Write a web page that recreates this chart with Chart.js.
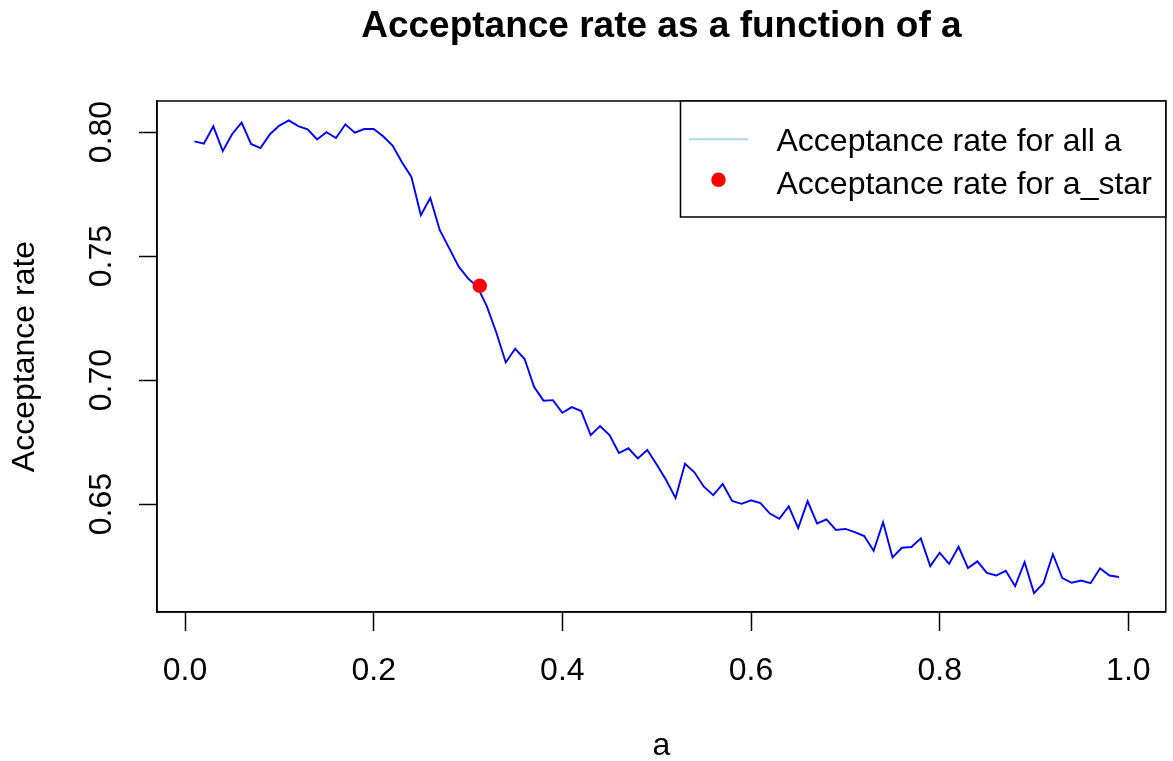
<!DOCTYPE html>
<html>
<head>
<meta charset="utf-8">
<title>Acceptance rate as a function of a</title>
<script src="https://cdn.jsdelivr.net/npm/chart.js@4.4.1/dist/chart.umd.min.js"></script>
<style>
  html, body { margin: 0; padding: 0; background: #fff; }
  #chart { display: block; }
</style>
</head>
<body>
<canvas id="chart" width="1173" height="761"></canvas>
<script>
// grid of proposal scales a and the acceptance rate measured at each one
const aGrid = [
  0.01, 0.02, 0.03, 0.04, 0.05, 0.06, 0.07, 0.08, 0.09, 0.10,
  0.11, 0.12, 0.13, 0.14, 0.15, 0.16, 0.17, 0.18, 0.19, 0.20,
  0.21, 0.22, 0.23, 0.24, 0.25, 0.26, 0.27, 0.28, 0.29, 0.30,
  0.31, 0.32, 0.33, 0.34, 0.35, 0.36, 0.37, 0.38, 0.39, 0.40,
  0.41, 0.42, 0.43, 0.44, 0.45, 0.46, 0.47, 0.48, 0.49, 0.50,
  0.51, 0.52, 0.53, 0.54, 0.55, 0.56, 0.57, 0.58, 0.59, 0.60,
  0.61, 0.62, 0.63, 0.64, 0.65, 0.66, 0.67, 0.68, 0.69, 0.70,
  0.71, 0.72, 0.73, 0.74, 0.75, 0.76, 0.77, 0.78, 0.79, 0.80,
  0.81, 0.82, 0.83, 0.84, 0.85, 0.86, 0.87, 0.88, 0.89, 0.90,
  0.91, 0.92, 0.93, 0.94, 0.95, 0.96, 0.97, 0.98, 0.99
];
const acceptRate = [
  0.7962, 0.7953, 0.8023, 0.7923, 0.7992, 0.8038, 0.7952, 0.7935, 0.7991, 0.8026,
  0.8047, 0.8024, 0.8011, 0.7970, 0.7999, 0.7976, 0.8031, 0.7997, 0.8012, 0.8012,
  0.7983, 0.7945, 0.7878, 0.7819, 0.7665, 0.7734, 0.7605, 0.7532, 0.7458, 0.7410,
  0.7376, 0.7297, 0.7192, 0.7071, 0.7126, 0.7085, 0.6973, 0.6917, 0.6919, 0.6868,
  0.6891, 0.6875, 0.6778, 0.6815, 0.6778, 0.6706, 0.6725, 0.6684, 0.6718, 0.6660,
  0.6597, 0.6525, 0.6663, 0.6628, 0.6570, 0.6536, 0.6581, 0.6513, 0.6501, 0.6515,
  0.6504, 0.6462, 0.6441, 0.6491, 0.6403, 0.6512, 0.6422, 0.6438, 0.6396, 0.6400,
  0.6387, 0.6371, 0.6312, 0.6427, 0.6285, 0.6324, 0.6327, 0.6362, 0.6250, 0.6304,
  0.6259, 0.6328, 0.6242, 0.6269, 0.6223, 0.6212, 0.6231, 0.6169, 0.6266, 0.6141,
  0.6181, 0.6298, 0.6202, 0.6183, 0.6192, 0.6181, 0.6241, 0.6212, 0.6206
];

// the chosen a_star and its rate
const aStar = [0.3125];
const aStarRate = [0.738];

const xTicks = [0.0, 0.2, 0.4, 0.6, 0.8, 1.0];
const yTicks = [0.65, 0.70, 0.75, 0.80];

const seriesNames = ["Acceptance rate for all a", "Acceptance rate for a_star"];
const mainTitle = "Acceptance rate as a function of a";
const xTitle = "a";
const yTitle = "Acceptance rate";

const FONT = "'Liberation Sans', Arial, Helvetica, sans-serif";
Chart.defaults.font.family = FONT;
Chart.defaults.color = "#000";

function points(xs, ys) {
  return xs.map(function (x, i) { return { x: x, y: ys[i] }; });
}

// full box round the plot region plus the main title above it
const frame = {
  id: "frame",
  afterDraw: function (chart, args, opts) {
    const ctx = chart.ctx, a = chart.chartArea;
    ctx.save();
    ctx.strokeStyle = "#000";
    ctx.lineWidth = 1.5;
    ctx.strokeRect(a.left, a.top, a.right - a.left, a.bottom - a.top);
    ctx.fillStyle = "#000";
    ctx.font = "bold 37px " + FONT;
    ctx.textAlign = "center";
    ctx.textBaseline = "alphabetic";
    ctx.fillText(opts.text, (a.left + a.right) / 2, opts.baseline);
    ctx.restore();
  }
};

// boxed legend pinned to the top-right corner of the plot
const boxLegend = {
  id: "boxLegend",
  afterDraw: function (chart, args, opts) {
    const ctx = chart.ctx, a = chart.chartArea;
    ctx.save();
    ctx.font = "32px " + FONT;
    let textW = 0;
    opts.labels.forEach(function (t) { textW = Math.max(textW, ctx.measureText(t).width); });
    const right = a.right, top = a.top;
    const left = right - (96 + textW + 14);
    const bottom = top + 116;
    ctx.fillStyle = "#fff";
    ctx.fillRect(left, top, right - left, bottom - top);
    ctx.strokeStyle = "#000";
    ctx.lineWidth = 1.5;
    ctx.strokeRect(left, top, right - left, bottom - top);

    const textX = left + 96;
    const firstBase = top + 50, step = 43.3;
    ctx.textAlign = "left";
    ctx.textBaseline = "alphabetic";
    opts.labels.forEach(function (t, i) {
      const base = firstBase + i * step;
      if (opts.kinds[i] === "line") {
        const cy = base - 11.7;
        ctx.strokeStyle = opts.colors[i];
        ctx.lineWidth = 2;
        ctx.beginPath();
        ctx.moveTo(left + 8.5, cy);
        ctx.lineTo(left + 67.5, cy);
        ctx.stroke();
      } else {
        const cy = base - 14.5;
        ctx.fillStyle = opts.colors[i];
        ctx.beginPath();
        ctx.arc(left + 38, cy, 7.2, 0, Math.PI * 2);
        ctx.fill();
      }
      ctx.fillStyle = "#000";
      ctx.fillText(t, textX, base);
    });
    ctx.restore();
  }
};

new Chart(document.getElementById("chart"), {
  type: "scatter",
  data: {
    datasets: [
      {
        label: seriesNames[1],
        data: points(aStar, aStarRate),
        pointRadius: 7.2,
        pointBackgroundColor: "red",
        borderWidth: 0,
        pointBorderWidth: 0,
        order: 0
      },
      {
        label: seriesNames[0],
        data: points(aGrid, acceptRate),
        showLine: true,
        borderColor: "blue",
        borderWidth: 1.9,
        pointRadius: 0,
        tension: 0,
        order: 1
      }
    ]
  },
  options: {
    responsive: false,
    animation: false,
    devicePixelRatio: 1,
    layout: { padding: { top: 101, right: 5, left: 0, bottom: 0 } },
    plugins: {
      legend: { display: false },
      tooltip: { enabled: false },
      frame: { text: mainTitle, baseline: 37 },
      boxLegend: {
        labels: seriesNames,
        kinds: ["line", "point"],
        colors: ["lightblue", "red"]
      }
    },
    scales: {
      x: {
        type: "linear",
        min: -0.0297,
        max: 1.0397,
        afterBuildTicks: function (s) { s.ticks = xTicks.map(function (v) { return { value: v }; }); },
        afterFit: function (s) { s.height = 149; },
        ticks: {
          autoSkip: false,
          maxRotation: 0,
          padding: 21,
          font: { size: 32 },
          color: "#000",
          callback: function (v) { return v.toFixed(1); }
        },
        grid: {
          drawOnChartArea: false,
          drawTicks: true,
          tickLength: 19,
          tickWidth: 1.5,
          tickColor: "#000",
          color: "#000"
        },
        border: { display: true, color: "#000", width: 1.5 },
        title: {
          display: true,
          text: xTitle,
          font: { size: 32 },
          color: "#000",
          padding: { top: 0, bottom: -4 }
        }
      },
      y: {
        type: "linear",
        min: 0.6065,
        max: 0.8125,
        afterBuildTicks: function (s) { s.ticks = yTicks.map(function (v) { return { value: v }; }); },
        afterFit: function (s) { s.width = 157; },
        ticks: {
          autoSkip: false,
          minRotation: 90,
          maxRotation: 90,
          crossAlign: "center",
          padding: 5.5,
          font: { size: 32 },
          color: "#000",
          callback: function (v) { return v.toFixed(2); }
        },
        grid: {
          drawOnChartArea: false,
          drawTicks: true,
          tickLength: 18,
          tickWidth: 1.5,
          tickColor: "#000",
          color: "#000"
        },
        border: { display: true, color: "#000", width: 1.5 },
        title: {
          display: true,
          text: yTitle,
          font: { size: 32 },
          color: "#000",
          padding: { top: 6.4, bottom: 0 }
        }
      }
    }
  },
  plugins: [frame, boxLegend]
});
</script>
</body>
</html>
